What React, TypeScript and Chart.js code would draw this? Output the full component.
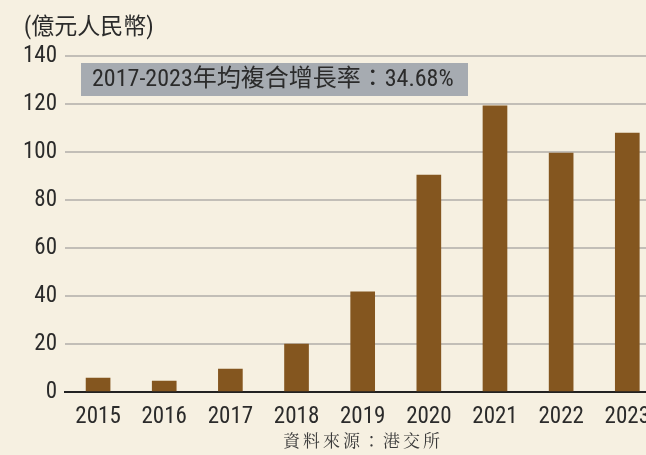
import React, { useEffect, useRef } from "react";
import { Chart, registerables } from "chart.js";

Chart.register(...registerables);

const years = ["2015", "2016", "2017", "2018", "2019", "2020", "2021", "2022", "2023"];
const values = [5.8, 4.6, 9.6, 20, 41.7, 90.4, 119.2, 99.6, 107.9];
const unitLabel = "(億元人民幣)";
const cagrLabel = "2017-2023年均複合增長率：34.68%";
const sourceLabel = "資料來源：港交所";

const BG = "#f6f0e1";
const BAR = "#84561f";
const TEXT = "#2b2b2b";
const FONT = "'Roboto Condensed', 'Noto Sans CJK TC', sans-serif";

export default function App() {
  const ref = useRef<HTMLCanvasElement>(null);

  useEffect(() => {
    if (!ref.current) return;
    const decor = {
      id: "decor",
      beforeDraw(chart: any) {
        const c = chart.ctx;
        c.save();
        c.fillStyle = BG;
        c.fillRect(0, 0, chart.width, chart.height);
        c.restore();
      },
      afterDraw(chart: any) {
        const c = chart.ctx;
        c.save();
        c.fillStyle = TEXT;
        c.textBaseline = "middle";
        c.textAlign = "left";
        c.font = "23px " + FONT;
        c.fillText(unitLabel, 24, 28);
        // annotation box
        c.fillStyle = "#a6abb1";
        c.fillRect(81, 63, 387, 33);
        c.fillStyle = TEXT;
        c.font = "24px " + FONT;
        c.fillText(cagrLabel, 92, 80);
        // source
        c.font = "17px 'Noto Serif CJK TC', serif";
        c.textAlign = "center";
        c.fillStyle = "#3a3a3a";
        (c as any).letterSpacing = "3px";
        c.fillText(sourceLabel, 363, 441);
        c.restore();
      },
    };
    const chart = new Chart(ref.current, {
      type: "bar",
      data: {
        labels: years,
        datasets: [
          {
            data: values,
            backgroundColor: BAR,
            barThickness: 24,
          },
        ],
      },
      options: {
        animation: false,
        responsive: false,
        maintainAspectRatio: false,
        layout: { padding: { top: 56, left: 0, right: 0, bottom: 0 } },
        plugins: { legend: { display: false }, tooltip: { enabled: false } },
        scales: {
          x: {
            grid: { display: false, drawTicks: false },
            border: { display: true, color: "#222", width: 2 },
            ticks: { color: TEXT, font: { family: FONT, size: 23 }, padding: 11, maxRotation: 0, autoSkip: false },
            afterFit(scale: any) {
              scale.height = 63;
            },
          },
          y: {
            min: 0,
            max: 140,
            grid: {
              color: (ctx: any) => (ctx.tick && ctx.tick.value === 0 ? "#222" : "#c2beb7"),
              lineWidth: 2,
              drawTicks: false,
            },
            border: { display: false },
            ticks: { stepSize: 20, color: TEXT, font: { family: FONT, size: 23 }, padding: 8 },
            afterFit(scale: any) {
              scale.width = 65;
            },
          },
        },
      },
      plugins: [decor],
    });
    return () => chart.destroy();
  }, []);

  return (
    <div
      style={{
        position: "fixed",
        left: 0,
        top: 0,
        width: 646,
        height: 455,
        overflow: "hidden",
        background: BG,
      }}
    >
      <canvas ref={ref} width={661} height={455} style={{ display: "block" }} />
    </div>
  );
}
